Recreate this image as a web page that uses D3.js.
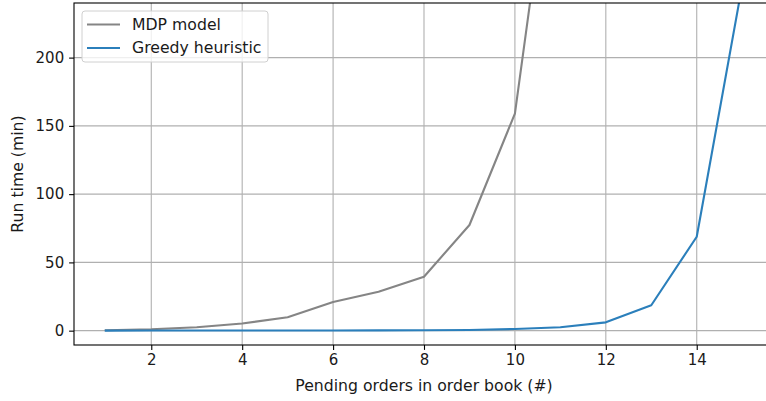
<!DOCTYPE html>
<html>
<head>
<meta charset="utf-8">
<script src="https://cdn.jsdelivr.net/npm/d3@7"></script>
<style>
  html, body { margin: 0; padding: 0; background: #fff; }
  svg { display: block; font-family: "DejaVu Sans", sans-serif; }
</style>
</head>
<body>
<svg id="chart" width="766" height="401"></svg>
<script>
// Run time of the exact MDP model vs. the greedy heuristic
const mdpOrders = [1, 2, 3, 4, 5, 6, 7, 8, 9, 10, 11];
const mdpMinutes = [0.3, 1.0, 2.5, 5.2, 9.8, 21, 28.5, 39.5, 77.4, 159, 403];
const greedyOrders = [1, 2, 3, 4, 5, 6, 7, 8, 9, 10, 11, 12, 13, 14, 15];
const greedyMinutes = [0.05, 0.1, 0.1, 0.1, 0.1, 0.15, 0.2, 0.3, 0.5, 1.2, 2.5, 6.1, 18.6, 68.8, 253];
const xTicks = [2, 4, 6, 8, 10, 12, 14];
const yTicks = [0, 50, 100, 150, 200];
const seriesNames = ["MDP model", "Greedy heuristic"];
const seriesColors = ["#858585", "#2b7fbb"];

const tickFont = "15px";
const labelFont = "15.7px";
const svg = d3.select("#chart");
const plot = { left: 74, top: 3, right: 774, bottom: 345 };

const x = d3.scaleLinear().domain([0.3, 15.7]).range([plot.left, plot.right]);
const y = d3.scaleLinear().domain([-10.5, 240]).range([plot.bottom, plot.top]);

svg.append("defs").append("clipPath").attr("id", "plot-clip")
  .append("rect")
  .attr("x", plot.left).attr("y", plot.top)
  .attr("width", plot.right - plot.left).attr("height", plot.bottom - plot.top);

// grid
const grid = svg.append("g").attr("stroke", "#b0b0b0").attr("stroke-width", 1.1);
grid.selectAll("line.gx").data(xTicks).join("line")
  .attr("x1", d => x(d)).attr("x2", d => x(d))
  .attr("y1", plot.top).attr("y2", plot.bottom);
grid.selectAll("line.gy").data(yTicks).join("line")
  .attr("y1", d => y(d)).attr("y2", d => y(d))
  .attr("x1", plot.left).attr("x2", plot.right);

// series
const line = d3.line().x(d => x(d[0])).y(d => y(d[1]));
const series = [
  d3.zip(mdpOrders, mdpMinutes),
  d3.zip(greedyOrders, greedyMinutes)
];
const lines = svg.append("g").attr("clip-path", "url(#plot-clip)");
series.forEach((pts, i) => {
  lines.append("path")
    .attr("d", line(pts))
    .attr("fill", "none")
    .attr("stroke", seriesColors[i])
    .attr("stroke-width", 2.1)
    .attr("stroke-linejoin", "round")
    .attr("stroke-linecap", "square");
});

// axes
const xAxis = d3.axisBottom(x).tickValues(xTicks).tickSize(4.9).tickPadding(4.9).tickSizeOuter(0);
const yAxis = d3.axisLeft(y).tickValues(yTicks).tickSize(4.9).tickPadding(4.9).tickSizeOuter(0);

const gx = svg.append("g").attr("transform", `translate(0,${plot.bottom})`).call(xAxis);
const gy = svg.append("g").attr("transform", `translate(${plot.left},0)`).call(yAxis);
[gx, gy].forEach(g => {
  g.select(".domain").remove();
  g.selectAll(".tick line").attr("stroke", "#000").attr("stroke-width", 1.1);
  g.selectAll(".tick text").attr("fill", "#1a1a1a").style("font-size", tickFont)
    .style("font-family", "DejaVu Sans, sans-serif");
});

// spines
const spines = svg.append("g").attr("stroke", "#000").attr("stroke-width", 1.1).attr("fill", "none");
spines.append("rect")
  .attr("x", plot.left).attr("y", plot.top)
  .attr("width", plot.right - plot.left).attr("height", plot.bottom - plot.top);

// axis labels
svg.append("text")
  .attr("x", (plot.left + plot.right) / 2).attr("y", 391)
  .attr("text-anchor", "middle").style("font-size", labelFont).attr("fill", "#1a1a1a")
  .text("Pending orders in order book (#)");
svg.append("text")
  .attr("transform", `translate(23,${(plot.top + plot.bottom) / 2}) rotate(-90)`)
  .attr("text-anchor", "middle").style("font-size", labelFont).attr("fill", "#1a1a1a")
  .text("Run time (min)");

// legend
const legend = svg.append("g").attr("transform", "translate(82,11)");
legend.append("rect")
  .attr("width", 186).attr("height", 51).attr("rx", 3)
  .attr("fill", "#fff").attr("fill-opacity", 0.8)
  .attr("stroke", "#d0d0d0").attr("stroke-width", 1);
seriesNames.forEach((name, i) => {
  const ly = 13.5 + i * 23.5;
  legend.append("line")
    .attr("x1", 5).attr("x2", 38).attr("y1", ly).attr("y2", ly)
    .attr("stroke", seriesColors[i]).attr("stroke-width", 2.1);
  legend.append("text")
    .attr("x", 50).attr("y", ly).attr("dy", "0.35em")
    .style("font-size", labelFont).attr("fill", "#1a1a1a")
    .text(name);
});
</script>
</body>
</html>
